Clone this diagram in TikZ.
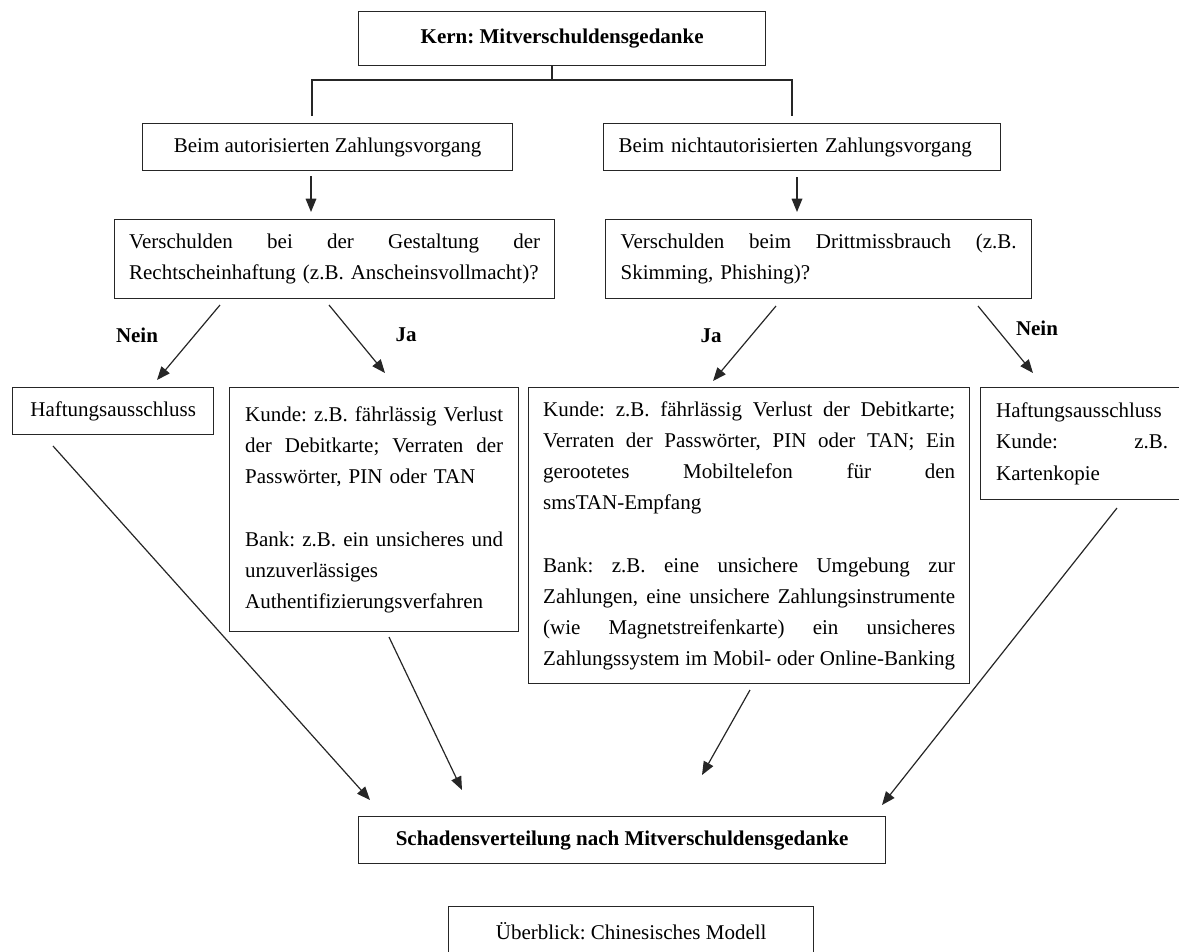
\documentclass[tikz,border=0pt]{standalone}
\usepackage{fontspec}
\setmainfont{Liberation Serif}
\usetikzlibrary{arrows.meta}
% one fully justified line of a paragraph, set to the given width:
% the word spaces may stretch freely and shrink a little
\newcommand{\jl}[2]{\leavevmode\hbox to #1{\spaceskip=0.25em plus 1fil minus 0.1em\relax #2}}

\begin{document}
\frenchspacing
\begin{tikzpicture}[x=0.75pt,y=-0.75pt,
  every node/.style={font=\fontsize{15.75}{23.4}\selectfont, text=black},
  box/.style={draw=black!85, line width=1pt, rectangle, inner ysep=0pt, anchor=north west},
  bold/.style={font=\fontsize{15.75}{23.4}\selectfont\bfseries},
  para/.style={align=left},
  arr/.style={draw=black!85, line width=0.9pt, -{Triangle[length=10pt,width=8pt]}},
  link/.style={draw=black!85, line width=1pt}
]
\useasboundingbox (0,0) rectangle (1179,951);

% --- boxes ---
\node[box, bold, minimum width=305.25pt, minimum height=40.5pt] (kern) at (358,11) {Kern: Mitverschuldensgedanke};

\node[box, minimum width=277.5pt, minimum height=35.25pt] (autor) at (142,123) {Beim autorisierten Zahlungsvorgang};
\node[box, para, text width=275.25pt, inner xsep=11.25pt, minimum height=35.25pt] (nicht) at (603,123) {Beim nichtautorisierten Zahlungsvorgang};

\node[box, para, text width=308.25pt, inner xsep=10.875pt, minimum height=59.25pt] (vl) at (114,219)
  {\jl{308.25pt}{Verschulden bei der Gestaltung der}\\ Rechtscheinhaftung (z.B. Anscheinsvollmacht)?};
\node[box, para, text width=297pt, inner xsep=11.25pt, minimum height=59.25pt] (vr) at (605,219)
  {\jl{297pt}{Verschulden beim Drittmissbrauch (z.B.}\\ Skimming, Phishing)?};

\node[box, minimum width=150.75pt, minimum height=35.25pt] (hl) at (12,387) {Haftungsausschluss};

\node[box, para, text width=193.5pt, inner xsep=11.625pt, minimum height=183pt] (kl) at (229,387)
  {\jl{193.5pt}{Kunde: z.B. fährlässig Verlust}\\
   \jl{193.5pt}{der Debitkarte; Verraten der}\\
   Passwörter, PIN oder TAN\\[23.4pt]
   \jl{193.5pt}{Bank: z.B. ein unsicheres und}\\
   unzuverlässiges\\
   Authentifizierungsverfahren};

\node[box, para, text width=309pt, inner xsep=10.875pt, minimum height=222pt] (km) at (528,387)
  {\jl{309pt}{Kunde: z.B. fährlässig Verlust der Debitkarte;}\\
   \jl{309pt}{Verraten der Passwörter, PIN oder TAN; Ein}\\
   \jl{309pt}{gerootetes Mobiltelefon für den}\\
   smsTAN-Empfang\\[23.4pt]
   \jl{309pt}{Bank: z.B. eine unsichere Umgebung zur}\\
   \jl{309pt}{Zahlungen, eine unsichere Zahlungsinstrumente}\\
   \jl{309pt}{(wie Magnetstreifenkarte) ein unsicheres}\\
   \jl{309pt}{Zahlungssystem im Mobil- oder Online-Banking}};

\node[box, para, text width=129pt, inner xsep=11.625pt, minimum height=84pt] (hr) at (980,387)
  {Haftungsausschluss\\
   \jl{129pt}{Kunde: z.B.}\\
   Kartenkopie};

\node[box, bold, minimum width=395.25pt, minimum height=35.25pt] (sv) at (358,816) {Schadensverteilung nach Mitverschuldensgedanke};

\node[box, minimum width=273.75pt, minimum height=36pt] (ov) at (448,906) {Überblick: Chinesisches Modell};

% --- branch labels ---
\node[bold] (neinL) at (137,335) {Nein};
\node[bold] (jaL)   at (406,335) {Ja};
\node[bold] (jaR)   at (711,336) {Ja};
\node[bold] (neinR) at (1037,328) {Nein};

% --- top fork ---
\coordinate (fork) at (552,80);
\coordinate (forkL) at (312,116);
\coordinate (forkR) at (792,116);
\draw[link] (kern.south -| fork) -- (fork);
\draw[link] (forkL) |- (fork) -| (forkR);

% --- arrow end points ---
\coordinate (a1s) at (311,176);  \coordinate (a1e) at (311,212);
\coordinate (a2s) at (797,177);  \coordinate (a2e) at (797,212);
\coordinate (nLs) at (220,305);  \coordinate (nLe) at (157,380);
\coordinate (jLs) at (329,305);  \coordinate (jLe) at (385,373);
\coordinate (jRs) at (776,306);  \coordinate (jRe) at (713,381);
\coordinate (nRs) at (978,306);  \coordinate (nRe) at (1033,373);
\coordinate (b1s) at (53,446);   \coordinate (b1e) at (370,800);
\coordinate (b2s) at (389,637);  \coordinate (b2e) at (462,790);
\coordinate (b3s) at (750,690);  \coordinate (b3e) at (702,775);
\coordinate (b4s) at (1117,508); \coordinate (b4e) at (882,805);

\draw[arr] (a1s) -- (a1e);
\draw[arr] (a2s) -- (a2e);
\draw[arr] (nLs) -- (nLe);
\draw[arr] (jLs) -- (jLe);
\draw[arr] (jRs) -- (jRe);
\draw[arr] (nRs) -- (nRe);
\draw[arr] (b1s) -- (b1e);
\draw[arr] (b2s) -- (b2e);
\draw[arr] (b3s) -- (b3e);
\draw[arr] (b4s) -- (b4e);
\end{tikzpicture}
\end{document}
